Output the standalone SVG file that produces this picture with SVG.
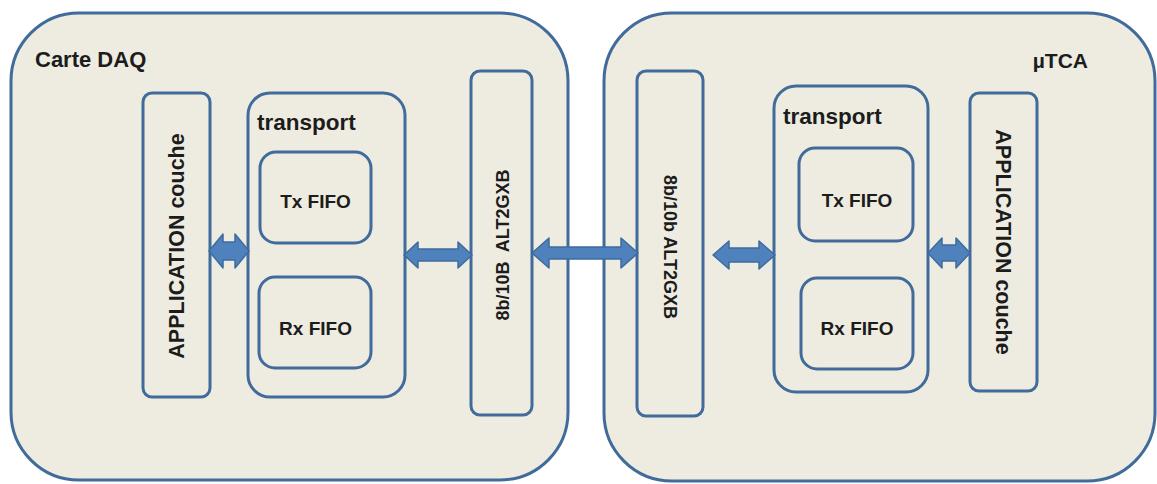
<svg xmlns="http://www.w3.org/2000/svg" width="1157" height="484" viewBox="0 0 1157 484">
<style>
.box{fill:#eeece1;stroke:#416b9b;stroke-width:3}
.t{font-family:"Liberation Sans",Arial,sans-serif;font-weight:bold;fill:#1c1c1c}
.arr{fill:#4f81bd;stroke:#3e6b9e;stroke-width:1.5;stroke-linejoin:round}
</style>
<rect x="0" y="0" width="1157" height="484" fill="#ffffff"/>
<g id="carte-daq">
<rect class="box" x="11" y="13" width="557" height="467" rx="68" ry="68"/>
<text class="t" x="35" y="67" font-size="22">Carte DAQ</text>
</g>
<g id="utca">
<rect class="box" x="604" y="13" width="551" height="468" rx="68" ry="68"/>
<text class="t" x="1088" y="68" font-size="21" text-anchor="end">µTCA</text>
</g>
<g id="app-left">
<rect class="box" x="143" y="93" width="67" height="304" rx="9"/>
<text class="t" x="0" y="0" font-size="21.5" text-anchor="middle" dominant-baseline="central" transform="translate(177,246) rotate(-90)">APPLICATION couche</text>
</g>
<g id="transport-left">
<rect class="box" x="248" y="93" width="157" height="304" rx="22"/>
<text class="t" x="257" y="130" font-size="22.5">transport</text>
</g>
<g id="tx-left">
<rect class="box" x="260" y="152" width="111" height="91" rx="16"/>
<text class="t" x="315.5" y="208" font-size="19" text-anchor="middle">Tx FIFO</text>
</g>
<g id="rx-left">
<rect class="box" x="259" y="277" width="112" height="91" rx="16"/>
<text class="t" x="315.5" y="335" font-size="19" text-anchor="middle">Rx FIFO</text>
</g>
<g id="serdes-left">
<rect class="box" x="471" y="71" width="61" height="344" rx="9"/>
<text class="t" x="0" y="0" font-size="18" text-anchor="middle" dominant-baseline="central" xml:space="preserve" transform="translate(503,245) rotate(-90)">8b/10B  ALT2GXB</text>
</g>
<g id="serdes-right">
<rect class="box" x="637" y="71" width="66" height="345" rx="9"/>
<text class="t" x="0" y="0" font-size="18" text-anchor="middle" dominant-baseline="central" transform="translate(670,247) rotate(90)">8b/10b ALT2GXB</text>
</g>
<g id="transport-right">
<rect class="box" x="774" y="86" width="154" height="306" rx="22"/>
<text class="t" x="783" y="124" font-size="22.5">transport</text>
</g>
<g id="tx-right">
<rect class="box" x="799" y="148" width="114" height="93" rx="16"/>
<text class="t" x="857" y="207" font-size="19" text-anchor="middle">Tx FIFO</text>
</g>
<g id="rx-right">
<rect class="box" x="801" y="278" width="112" height="91" rx="16"/>
<text class="t" x="857" y="335" font-size="19" text-anchor="middle">Rx FIFO</text>
</g>
<g id="app-right">
<rect class="box" x="970" y="93" width="67" height="298" rx="9"/>
<text class="t" x="0" y="0" font-size="21.5" text-anchor="middle" dominant-baseline="central" transform="translate(1003,242) rotate(90)">APPLICATION couche</text>
</g>
<g id="connectors">
<polygon class="arr" points="209,251 223,234 223,242 235,242 235,234 249,251 235,268 235,260 223,260 223,268"/>
<polygon class="arr" points="404,255 418,242 418,249 458,249 458,242 472,255 458,268 458,261 418,261 418,268"/>
<polygon class="arr" points="532,253 549,238 549,247 621,247 621,238 638,253 621,268 621,259 549,259 549,268"/>
<polygon class="arr" points="713,255 729,241 729,248 759,248 759,241 775,255 759,269 759,262 729,262 729,269"/>
<polygon class="arr" points="928,253 942,238 942,245 956,245 956,238 970,253 956,268 956,261 942,261 942,268"/>
</g>
</svg>
